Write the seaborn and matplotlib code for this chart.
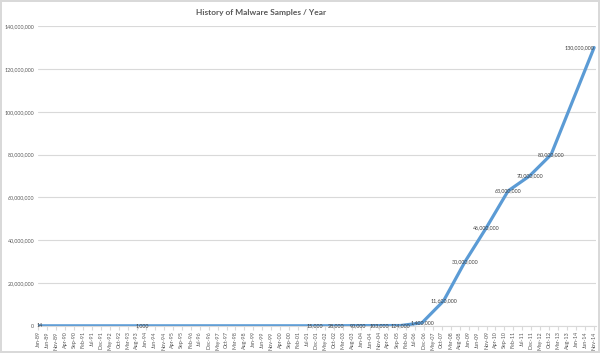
import numpy as np
import pandas as pd
import matplotlib
matplotlib.use("Agg")
import matplotlib.pyplot as plt
import matplotlib.dates as mdates
from matplotlib.ticker import FuncFormatter
import seaborn as sns

# data
dates = ["1989-01", "1993-11", "2001-11", "2002-11", "2003-11", "2004-11",
         "2005-11", "2006-11", "2007-11", "2008-11", "2009-11", "2010-11",
         "2011-11", "2012-11", "2014-11"]
samples = [14, 1000, 15000, 28000, 90000, 103000, 124000, 1400000,
           11600000, 30000000, 46000000, 63000000, 70000000, 80000000,
           130000000]
y_ticks = [0, 20000000, 40000000, 60000000, 80000000, 100000000,
           120000000, 140000000]

df = pd.DataFrame({"Date": pd.to_datetime(dates), "Samples": samples})

sns.set_theme(style="white")
plt.rcParams["font.family"] = ["Lato", "DejaVu Sans"]

fig = plt.figure(figsize=(6, 3.53), dpi=100)
fig.patch.set_edgecolor("#D9D9D9")
fig.patch.set_linewidth(1.5)
ax = fig.add_axes([0.064, 0.077, 0.93, 0.849])

sns.lineplot(data=df, x="Date", y="Samples", ax=ax, color="#5B9BD5",
             linewidth=2.3, solid_capstyle="round")

# x axis: month ticks every 5 months
ticks = pd.date_range("1989-01-01", "2014-11-01", freq="5MS")
ax.set_xticks(ticks)
ax.xaxis.set_major_formatter(mdates.DateFormatter("%b-%y"))
ax.set_xlim(pd.Timestamp("1989-01-01"), pd.Timestamp("2014-12-10"))
ax.tick_params(axis="x", labelsize=3.9, labelrotation=90, colors="#D9D9D9",
               labelcolor="#595959", length=3, width=0.8, pad=1,
               direction="out", bottom=True)

ax.set_ylim(0, 140000000)
ax.set_yticks(y_ticks)
ax.yaxis.set_major_formatter(FuncFormatter(lambda v, p: f"{int(v):,}"))
ax.tick_params(axis="y", labelsize=3.9, labelcolor="#595959", length=0,
               pad=3)
ax.grid(axis="y", color="#D9D9D9", linewidth=0.8)
ax.set_axisbelow(True)

for s in ["top", "right", "left"]:
    ax.spines[s].set_visible(False)
ax.spines["bottom"].set_color("#D9D9D9")
ax.spines["bottom"].set_linewidth(0.8)

ax.set_xlabel("")
ax.set_ylabel("")

# data labels
for i, (d, v) in enumerate(zip(df["Date"], df["Samples"])):
    ha = "right" if i == len(df) - 1 else "center"
    ax.annotate(f"{v:,}", (d, v), ha=ha, va="center", fontsize=3.9,
                color="#404040", xytext=(1 if i == 0 else 0, 0),
                textcoords="offset points")

fig.text(0.435, 0.966, "History of Malware Samples / Year", ha="center",
         va="center", fontsize=6, color="#595959", fontweight="bold")

fig.savefig("out.png", dpi=100)
